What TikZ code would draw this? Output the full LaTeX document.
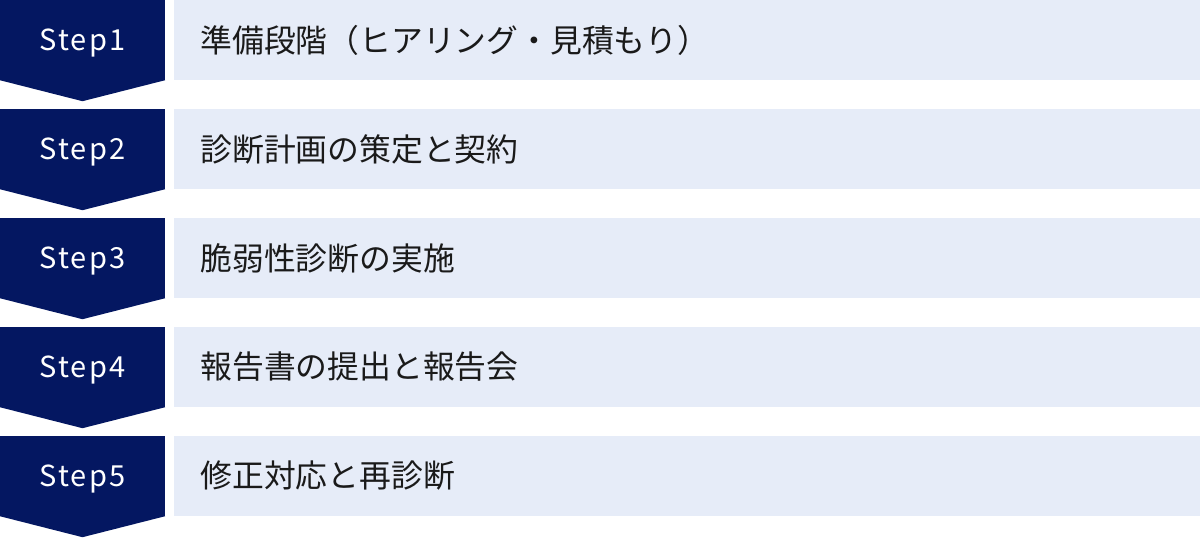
\documentclass[tikz,border=0pt]{standalone}
\usepackage{fontspec}
\setmainfont{Noto Sans}
\newfontfamily\jpfont{Noto Sans CJK JP}
\newfontfamily\stepfont[LetterSpace=7]{Noto Sans CJK JP}
\usetikzlibrary{positioning}

\definecolor{stepnavy}{HTML}{041761}
\definecolor{rowblue}{HTML}{E6ECF8}
\definecolor{rowtext}{HTML}{1A1A1A}

\tikzset{
    stepbox/.style={fill=stepnavy, text=white, minimum width=165pt, minimum height=80pt,
                    inner sep=0pt, text depth=0pt, font=\stepfont\fontsize{29}{32}\selectfont},
    rowbox/.style={fill=rowblue, text=rowtext, minimum width=1026pt, minimum height=80pt,
                   inner xsep=26pt, inner ysep=0pt, text width=974pt, align=left,
                   font=\jpfont\fontsize{31.8}{34}\selectfont}
}

\begin{document}
\begin{tikzpicture}[x=1pt, y=-1pt]
            \useasboundingbox (0, 0) rectangle (1200, 538);

            \node[stepbox] (s1) at (82.5, 40) {Step1};
            \node[stepbox] (s2) at (82.5, 149) {Step2};
            \node[stepbox] (s3) at (82.5, 258) {Step3};
            \node[stepbox] (s4) at (82.5, 367) {Step4};
            \node[stepbox] (s5) at (82.5, 476) {Step5};

            % chevron tips under each step
            \fill[stepnavy] (s1.south west) -- (s1.south east) -- ([yshift=-21pt]s1.south) -- cycle;
            \fill[stepnavy] (s2.south west) -- (s2.south east) -- ([yshift=-21pt]s2.south) -- cycle;
            \fill[stepnavy] (s3.south west) -- (s3.south east) -- ([yshift=-21pt]s3.south) -- cycle;
            \fill[stepnavy] (s4.south west) -- (s4.south east) -- ([yshift=-21pt]s4.south) -- cycle;
            \fill[stepnavy] (s5.south west) -- (s5.south east) -- ([yshift=-21pt]s5.south) -- cycle;

            \node[rowbox, right=9pt of s1] (r1) {準備段階（ヒアリング・見積もり）};
            \node[rowbox, right=9pt of s2] (r2) {診断計画の策定と契約};
            \node[rowbox, right=9pt of s3] (r3) {脆弱性診断の実施};
            \node[rowbox, right=9pt of s4] (r4) {報告書の提出と報告会};
            \node[rowbox, right=9pt of s5] (r5) {修正対応と再診断};
        \end{tikzpicture}
\end{document}
